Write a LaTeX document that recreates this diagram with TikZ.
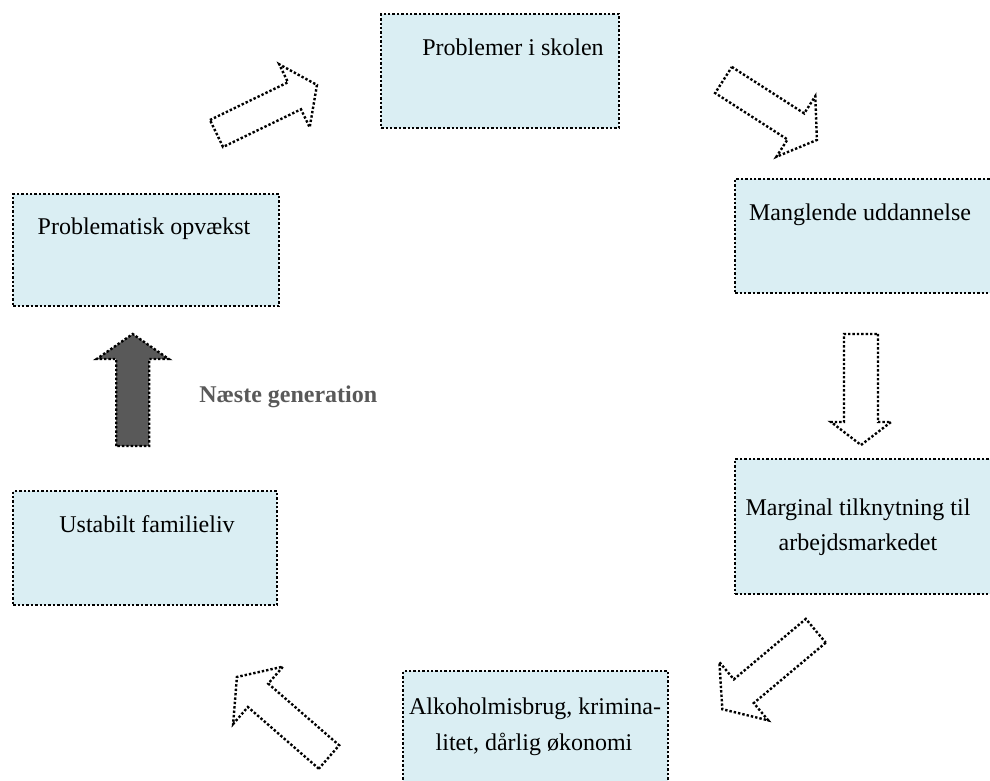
\documentclass[tikz,border=0pt]{standalone}
\usepackage{fontspec}
\setmainfont{Liberation Serif}
\definecolor{boxfill}{HTML}{DAEEF3}
\definecolor{darkarrow}{HTML}{595959}
\definecolor{labelgray}{HTML}{595959}
\tikzset{
  dotline/.style={line width=1.8pt, dash pattern=on 1.8pt off 1.5pt, draw=black},
  box/.style={dotline, fill=boxfill, rectangle, inner sep=0pt, anchor=north west},
  txt/.style={font=\fontsize{18}{24}\selectfont, inner sep=0pt, align=center},
  hollowarrow/.style={dotline, fill=white},
  solidarrow/.style={dotline, fill=darkarrow},
}
% #1 style, #2 x, #3 y (tail centre), #4 angle (pixel frame), #5 length, #6 half body, #7 half head, #8 head length
\newcommand\blockarrow[8]{%
  \draw[#1, shift={(#2,#3)}, rotate={0-(#4)}]
    (0,-#6) -- ({#5-#8},-#6) -- ({#5-#8},-#7) -- (#5,0) -- ({#5-#8},#7)
    -- ({#5-#8},#6) -- (0,#6) -- cycle;}
\begin{document}
\begin{tikzpicture}[x=0.75pt, y=-0.75pt]
\useasboundingbox (0,0) rectangle (990,781);
\clip (0,0) rectangle (990,781);
% boxes
\node[box, minimum width={238*0.75pt}, minimum height={114*0.75pt}] (b1) at (380,13) {};
\node[box, minimum width={266*0.75pt}, minimum height={114*0.75pt}] (b2) at (734,178) {};
\node[box, minimum width={266*0.75pt}, minimum height={135*0.75pt}] (b3) at (734,458) {};
\node[box, minimum width={265*0.75pt}, minimum height={125*0.75pt}] (b4) at (402,670) {};
\node[box, minimum width={264*0.75pt}, minimum height={114*0.75pt}] (b5) at (12,490) {};
\node[box, minimum width={266*0.75pt}, minimum height={112*0.75pt}] (b6) at (12,193) {};
% texts
\node[txt] (t1) at (513,47) {Problemer i skolen};
\node[txt] (t2) at (860,215) {Manglende uddannelse};
\node[txt] (t3a) at (858,510) {Marginal tilknytning til};
\node[txt] (t3b) at (858,545) {arbejdsmarkedet};
\node[txt] (t4a) at (535,709) {Alkoholmisbrug, krimina-};
\node[txt] (t4b) at (534,744) {litet, dårlig økonomi};
\node[txt] (t5) at (147,524) {Ustabilt familieliv};
\node[txt] (t6) at (144,229) {Problematisk opvækst};
\node[txt, anchor=west, text=labelgray, font=\fontsize{18}{24}\selectfont\bfseries] (ng) at (199,397) {Næste generation};
% arrows
\blockarrow{hollowarrow}{216.5}{133.5}{-25.8}{111.6}{15}{35}{25}
\blockarrow{hollowarrow}{723.5}{80}{32.7}{111}{15.5}{36}{25}
\blockarrow{hollowarrow}{861}{334}{90}{111}{17}{30}{23}
\blockarrow{hollowarrow}{815.8}{630.8}{140}{122}{15.5}{38}{28}
\blockarrow{hollowarrow}{329}{757}{-139}{122}{15.5}{38}{28}
\blockarrow{solidarrow}{132.7}{446}{-90}{112}{16.5}{36}{25}
\end{tikzpicture}
\end{document}
